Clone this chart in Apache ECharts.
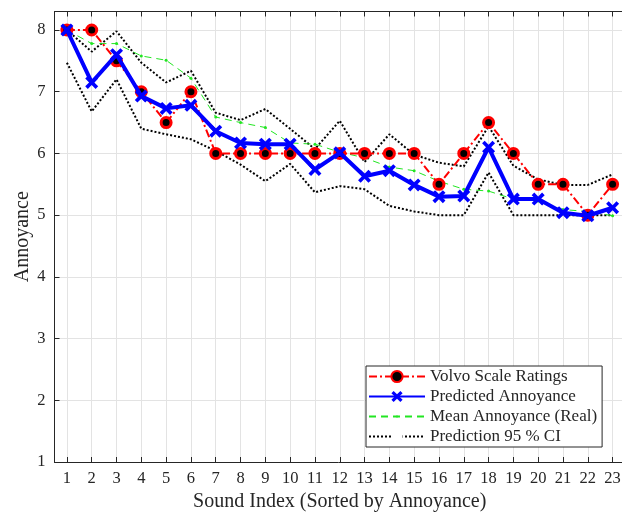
<!DOCTYPE html>
<html>
<head>
<meta charset="utf-8">
<script src="https://cdn.jsdelivr.net/npm/echarts@6/dist/echarts.min.js"></script>
<style>
  html, body { margin: 0; padding: 0; background: #fff; }
  #chart { width: 622px; height: 514px; }
</style>
</head>
<body>
<div id="chart"></div>
<script>
// Sound indices (sorted by annoyance)
const soundIndex = [1,2,3,4,5,6,7,8,9,10,11,12,13,14,15,16,17,18,19,20,21,22,23];
const yTicks = [1,2,3,4,5,6,7,8];

const volvoRatings = [8,8,7.5,7,6.5,7,6,6,6,6,6,6,6,6,6,5.5,6,6.5,6,5.5,5.5,5,5.5];
const predicted    = [8,7.15,7.6,6.93,6.73,6.78,6.36,6.17,6.15,6.15,5.74,6.01,5.63,5.72,5.49,5.3,5.31,6.1,5.26,5.26,5.04,4.99,5.12];
const meanReal     = [8,7.78,7.78,7.58,7.51,7.22,6.59,6.5,6.42,6.17,6.15,6.02,5.93,5.78,5.72,5.55,5.42,5.39,5.26,5.23,5.09,5.06,4.99];
const ciUpper      = [8,7.65,7.98,7.47,7.15,7.34,6.66,6.54,6.72,6.4,6.07,6.53,5.86,6.31,5.98,5.85,5.79,6.44,5.8,5.58,5.49,5.49,5.66];
const ciLower      = [7.47,6.68,7.2,6.4,6.31,6.23,6.04,5.82,5.55,5.83,5.37,5.47,5.42,5.15,5.06,5.0,5.0,5.69,5.0,5.0,5.0,5.0,5.0];

const pair = arr => soundIndex.map((x, i) => [x, arr[i]]);

const serif = 'Liberation Serif';
const axisColor = '#262626';
const gridColor = '#e3e3e3';
// thick "x" marker
const crossPath = 'path://M2,0 L5,3 L8,0 L10,2 L7,5 L10,8 L8,10 L5,7 L2,10 L0,8 L3,5 L0,2 Z';
// small dot centred in a larger (empty) box, so the dot stays small in the legend too
const dotPath = 'path://M0,0 L0,0 M10,10 L10,10 M4,5 A1,1 0 1,0 6,5 A1,1 0 1,0 4,5 Z';

const chart = echarts.init(document.getElementById('chart'), null, { renderer: 'canvas' });

const tickStyle = { show: true, inside: true, length: 5, lineStyle: { color: axisColor } };

chart.setOption({
  animation: false,
  backgroundColor: '#ffffff',
  textStyle: { fontFamily: serif },
  grid: { left: 54.5, top: 11.5, bottom: 52, right: -3, outerBoundsMode: 'none', containLabel: false },
  xAxis: [{
    type: 'value', min: 0.5, max: 23.5,
    name: 'Sound Index (Sorted by Annoyance)',
    nameLocation: 'middle', nameGap: 30, nameMoveOverlap: false,
    nameTextStyle: { fontFamily: serif, fontSize: 20, color: axisColor },
    axisLine: { show: true, lineStyle: { color: axisColor, width: 1 } },
    axisTick: Object.assign({ customValues: soundIndex }, tickStyle),
    axisLabel: { customValues: soundIndex, fontFamily: serif, fontSize: 16.5, color: axisColor, margin: 8 },
    splitLine: { show: true, customValues: soundIndex, lineStyle: { color: gridColor, width: 1 } }
  }, {
    type: 'value', min: 0.5, max: 23.5, position: 'top',
    axisLine: { show: true, lineStyle: { color: axisColor, width: 1 } },
    axisTick: Object.assign({ customValues: soundIndex }, tickStyle),
    axisLabel: { show: false },
    splitLine: { show: false }
  }],
  yAxis: {
    type: 'value', min: 1, max: 8.3,
    name: 'Annoyance', nameLocation: 'middle', nameGap: 22, nameMoveOverlap: false,
    nameTextStyle: { fontFamily: serif, fontSize: 20, color: axisColor },
    axisLine: { show: true, lineStyle: { color: axisColor, width: 1 } },
    axisTick: Object.assign({ customValues: yTicks }, tickStyle),
    axisLabel: { customValues: yTicks, fontFamily: serif, fontSize: 16.5, color: axisColor, margin: 9 },
    splitLine: { show: true, customValues: yTicks, lineStyle: { color: gridColor, width: 1 } }
  },
  legend: {
    orient: 'vertical',
    left: 366, top: 366,
    padding: [2, 5, 2, 2],
    itemGap: 3,
    itemWidth: 56, itemHeight: 14,
    backgroundColor: '#ffffff',
    borderColor: axisColor, borderWidth: 1, borderRadius: 0,
    textStyle: { fontFamily: serif, fontSize: 17, lineHeight: 17, color: axisColor },
    data: ['Volvo Scale Ratings', 'Predicted Annoyance', 'Mean Annoyance (Real)', 'Prediction 95 % CI']
  },
  series: [
    {
      name: 'Prediction 95 % CI', type: 'line', data: pair(ciUpper),
      showSymbol: false, z: 1,
      lineStyle: { color: '#000000', width: 2, type: [2, 2] },
      itemStyle: { color: 'rgba(0,0,0,0)', borderWidth: 0 }
    },
    {
      name: 'Prediction 95 % CI', type: 'line', data: pair(ciLower),
      showSymbol: false, z: 1,
      lineStyle: { color: '#000000', width: 2, type: [2, 2] },
      itemStyle: { color: 'rgba(0,0,0,0)', borderWidth: 0 }
    },
    {
      name: 'Mean Annoyance (Real)', type: 'line', data: pair(meanReal),
      symbol: dotPath, symbolSize: 15, z: 2,
      lineStyle: { color: '#22e622', width: 1, type: [7, 5] },
      itemStyle: { color: '#22e622' }
    },
    {
      name: 'Volvo Scale Ratings', type: 'line', data: pair(volvoRatings),
      symbol: 'circle', symbolSize: 10, z: 3,
      lineStyle: { color: '#ff0000', width: 2, type: [8, 3, 2, 3] },
      itemStyle: { color: '#000000', borderColor: '#ff0000', borderWidth: 3 }
    },
    {
      name: 'Predicted Annoyance', type: 'line', data: pair(predicted),
      symbol: crossPath, symbolSize: 13, z: 4,
      lineStyle: { color: '#0000ff', width: 4 },
      itemStyle: { color: '#0000ff' }
    }
  ]
});
</script>
</body>
</html>
